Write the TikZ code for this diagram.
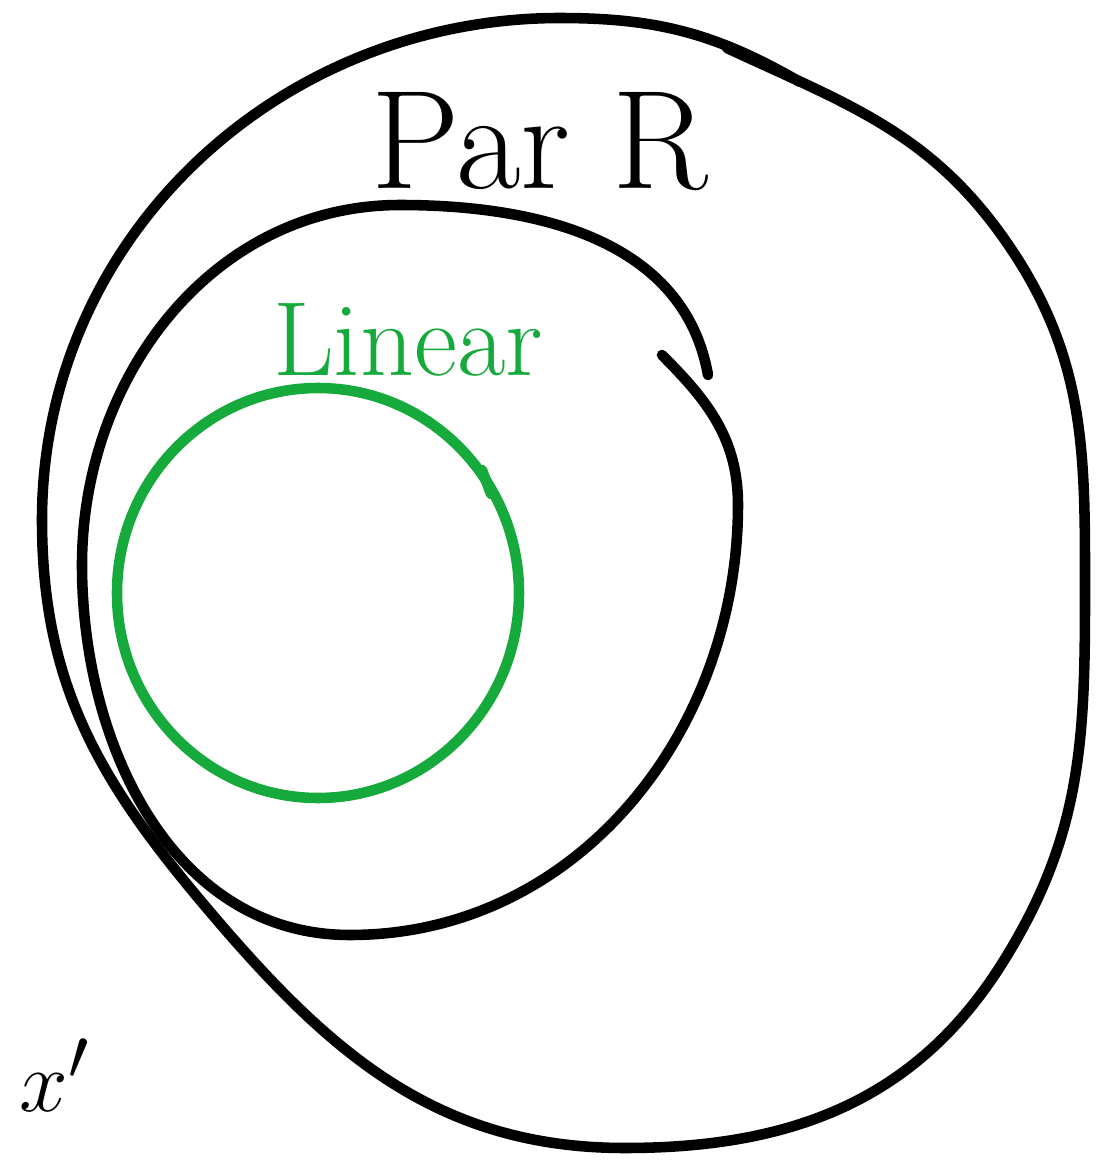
\documentclass[tikz,border=0pt]{standalone}
\usepackage{xcolor}
\definecolor{penGreen}{RGB}{22,170,60}
\tikzset{
  pen/.style    = {line width=3pt, line cap=round, line join=round},
  bigtext/.style = {font=\fontsize{40}{44}\selectfont},
  midtext/.style = {font=\fontsize{30}{34}\selectfont}
}
\begin{document}
\begin{tikzpicture}[x=0.01cm, y=0.01cm]
    \useasboundingbox (0,0) rectangle (1119,1162);
    % outer set
    \draw[pen] (727,1114) to[out=-25, in=125] (1005,922)
      to[out=-55, in=90] (1085,562)
      to[out=-90, in=58] (1003,200)
      to[out=-122, in=0] (625,14)
      to[out=180, in=-50] (200,262)
      to[out=130, in=-90] (42,642)
      to[out=90, in=180] (560,1144)
      to[out=0, in=150] (800,1080);
    % Par R
    \draw[pen] (708,787) to[out=100, in=0] (400,957)
      to[out=180, in=90] (82,597)
      to[out=-90, in=180] (350,227)
      to[out=0, in=-90] (738,657)
      to[out=90, in=-45] (662,807);
    % Linear
    \draw[pen, penGreen] (318,569) ellipse (201 and 205);
    \draw[pen, penGreen] (482,692) -- (491,668);
    \node[bigtext] (parR) at (540,1020) {Par R};
    \node[midtext, text=penGreen] (linear) at (408,822) {Linear};
    \node[midtext] (xprime) at (55,87) {$x'$};
\end{tikzpicture}
\end{document}
